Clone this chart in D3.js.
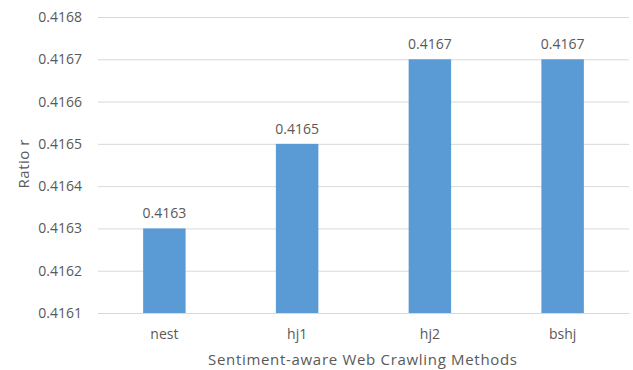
<!DOCTYPE html>
<html>
<head>
<meta charset="utf-8">
<script src="https://cdn.jsdelivr.net/npm/d3@7"></script>
<style>
  html, body { margin: 0; padding: 0; background: #fff; }
  svg text { font-family: "Open Sans", "DejaVu Sans", sans-serif; fill: #595959; }
</style>
</head>
<body>
<svg id="chart" width="633" height="370"></svg>
<script>
// Crawling methods and their ratio r
const methods = ["nest", "hj1", "hj2", "bshj"];
const ratios = [0.4163, 0.4165, 0.4167, 0.4167];
const yTicks = [0.4161, 0.4162, 0.4163, 0.4164, 0.4165, 0.4166, 0.4167, 0.4168];

const svg = d3.select("#chart");
const margin = { top: 17, right: 4, bottom: 57, left: 98 };
const width = 633 - margin.left - margin.right;
const height = 370 - margin.top - margin.bottom;

const g = svg.append("g").attr("transform", `translate(${margin.left},${margin.top})`);

const x = d3.scaleBand().domain(methods).range([0, width]).paddingInner(0.68).paddingOuter(0.34);
const y = d3.scaleLinear().domain([0.4161, 0.4168]).range([height, 0]);

// Horizontal gridlines with tick labels
const yAxis = d3.axisLeft(y).tickValues(yTicks).tickSize(-width).tickPadding(16).tickFormat(d3.format(".4f"));
g.append("g").call(yAxis)
  .call(s => s.select(".domain").remove())
  .call(s => s.selectAll(".tick line").attr("stroke", "#d9d9d9").attr("stroke-width", 1))
  .call(s => s.selectAll(".tick text").attr("font-size", 14).style("fill", "#595959"));

// Bars
g.selectAll("rect.bar").data(methods).join("rect")
  .attr("class", "bar")
  .attr("x", d => x(d))
  .attr("width", x.bandwidth())
  .attr("y", (d, i) => y(ratios[i]))
  .attr("height", (d, i) => height - y(ratios[i]))
  .attr("fill", "#5b9bd5");

// Value labels above the bars
g.selectAll("text.val").data(methods).join("text")
  .attr("class", "val")
  .attr("x", d => x(d) + x.bandwidth() / 2)
  .attr("y", (d, i) => y(ratios[i]) - 10)
  .attr("text-anchor", "middle")
  .attr("font-size", 14)
  .text((d, i) => d3.format(".4f")(ratios[i]));

// Category axis
const xAxis = d3.axisBottom(x).tickSize(0).tickPadding(16);
g.append("g").attr("transform", `translate(0,${height})`).call(xAxis)
  .call(s => s.select(".domain").attr("stroke", "#d9d9d9"))
  .call(s => s.selectAll(".tick text").attr("font-size", 14).style("fill", "#595959"));

// Axis titles
svg.append("text")
  .attr("x", margin.left + width / 2 - 1)
  .attr("y", 365)
  .attr("text-anchor", "middle")
  .attr("font-size", 15)
  .attr("textLength", 309)
  .attr("lengthAdjust", "spacing")
  .text("Sentiment-aware Web Crawling Methods");

svg.append("text")
  .attr("transform", `translate(29,164) rotate(-90)`)
  .attr("text-anchor", "middle")
  .attr("font-size", 15)
  .attr("textLength", 49)
  .attr("lengthAdjust", "spacing")
  .text("Ratio r");
</script>
</body>
</html>
